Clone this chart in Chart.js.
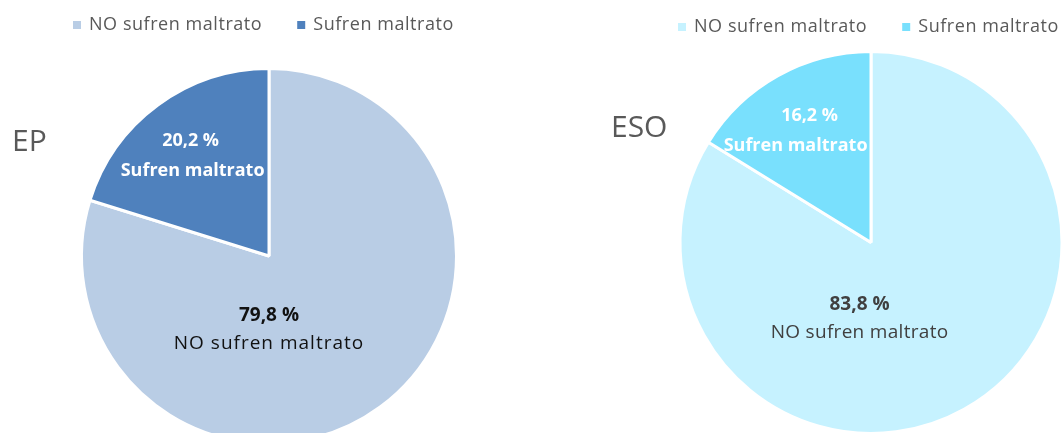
<!DOCTYPE html>
<html>
<head>
<meta charset="utf-8">
<script src="https://cdn.jsdelivr.net/npm/chart.js@4.4.1/dist/chart.umd.min.js"></script>
<style>
  html, body { margin: 0; padding: 0; background: #fff; overflow: hidden; }
  #wrap { position: relative; width: 1062px; height: 433px; overflow: hidden; }
  #epBox { position: absolute; left: 0; top: 0; width: 531px; height: 460px; }
  #esoBox { position: absolute; left: 531px; top: 0; width: 560px; height: 460px; }
</style>
</head>
<body>
<div id="wrap">
  <div id="epBox"><canvas id="epChart"></canvas></div>
  <div id="esoBox"><canvas id="esoChart"></canvas></div>
</div>
<script>
// categories and values
const categories = ['NO sufren maltrato', 'Sufren maltrato'];
const epValues = [79.8, 20.2];
const esoValues = [83.8, 16.2];
const epColors = ['#B9CDE5', '#4F81BD'];
const esoColors = ['#C6F2FF', '#79E0FD'];

const FONT = "'Open Sans', sans-serif";

// draws the legend, the group title and the slice labels
const decorPlugin = {
  id: 'decor',
  afterDraw(chart) {
    const o = chart.options.plugins.decor;
    const ctx = chart.ctx;
    const colors = chart.data.datasets[0].backgroundColor;
    ctx.save();

    // legend
    ctx.font = '18px ' + FONT;
    ctx.letterSpacing = '0.55px';
    ctx.textBaseline = 'middle';
    ctx.textAlign = 'left';
    let x = o.legendX;
    chart.data.labels.forEach((lab, i) => {
      ctx.fillStyle = colors[i];
      ctx.fillRect(x, o.legendY - 4, 8, 8);
      ctx.fillStyle = '#595959';
      ctx.fillText(lab, x + 16, o.legendY);
      x += 16 + ctx.measureText(lab).width + 35;
    });

    // title
    ctx.letterSpacing = '0px';
    ctx.font = '30px ' + FONT;
    ctx.fillStyle = '#595959';
    ctx.fillText(o.title, o.titleX, o.titleY);

    // slice labels
    const meta = chart.getDatasetMeta(0);
    const vals = chart.data.datasets[0].data;
    ctx.textAlign = 'center';
    meta.data.forEach((arc, i) => {
      const r = arc.outerRadius;
      const pct = vals[i].toFixed(1).replace('.', ',') + ' %';
      if (vals[i] < 50) {
        const mid = (arc.startAngle + arc.endAngle) / 2;
        const px = arc.x + Math.cos(mid) * r * 0.66;
        const py = arc.y + Math.sin(mid) * r * 0.66 + o.smallDy;
        ctx.fillStyle = '#ffffff';
        ctx.font = 'bold 18px ' + FONT;
        ctx.fillText(pct, px + o.pctDx, py - 15);
        ctx.fillText(chart.data.labels[i], px + o.labDx, py + 15);
      } else {
        const px = arc.x + o.bigOffset[0] * r;
        const py = arc.y + o.bigOffset[1] * r;
        ctx.fillStyle = o.bigColor;
        ctx.font = 'bold 19px ' + FONT;
        ctx.fillText(pct, px, py - 14);
        ctx.font = '19px ' + FONT;
        ctx.letterSpacing = o.bigSpacing;
        ctx.fillText(chart.data.labels[i], px, py + 14);
        ctx.letterSpacing = '0px';
      }
    });
    ctx.restore();
  }
};

function makePie(id, values, colors, pad, decor) {
  return new Chart(document.getElementById(id), {
    type: 'pie',
    data: {
      labels: categories,
      datasets: [{
        data: values,
        backgroundColor: colors,
        borderColor: '#ffffff',
        borderWidth: 3,
        hoverOffset: 0
      }]
    },
    options: {
      responsive: true,
      maintainAspectRatio: false,
      animation: false,
      layout: { padding: pad },
      plugins: {
        legend: { display: false },
        tooltip: { enabled: false },
        decor: decor
      }
    },
    plugins: [decorPlugin]
  });
}

makePie('epChart', epValues, epColors,
  { top: 67, bottom: 15, left: 7, right: 0 },
  { legendX: 73, legendY: 25, title: 'EP', titleX: 12, titleY: 142,
    pctDx: -5, labDx: -3, smallDy: 0,
    bigOffset: [0, 0.39], bigColor: '#111111', bigSpacing: '1px' });

makePie('esoChart', esoValues, esoColors,
  { top: 50, bottom: 25, left: 120, right: 0 },
  { legendX: 147, legendY: 27, title: 'ESO', titleX: 80, titleY: 128,
    pctDx: 0, labDx: -14, smallDy: -2,
    bigOffset: [-0.06, 0.4], bigColor: '#404040', bigSpacing: '0.3px' });
</script>
</body>
</html>
